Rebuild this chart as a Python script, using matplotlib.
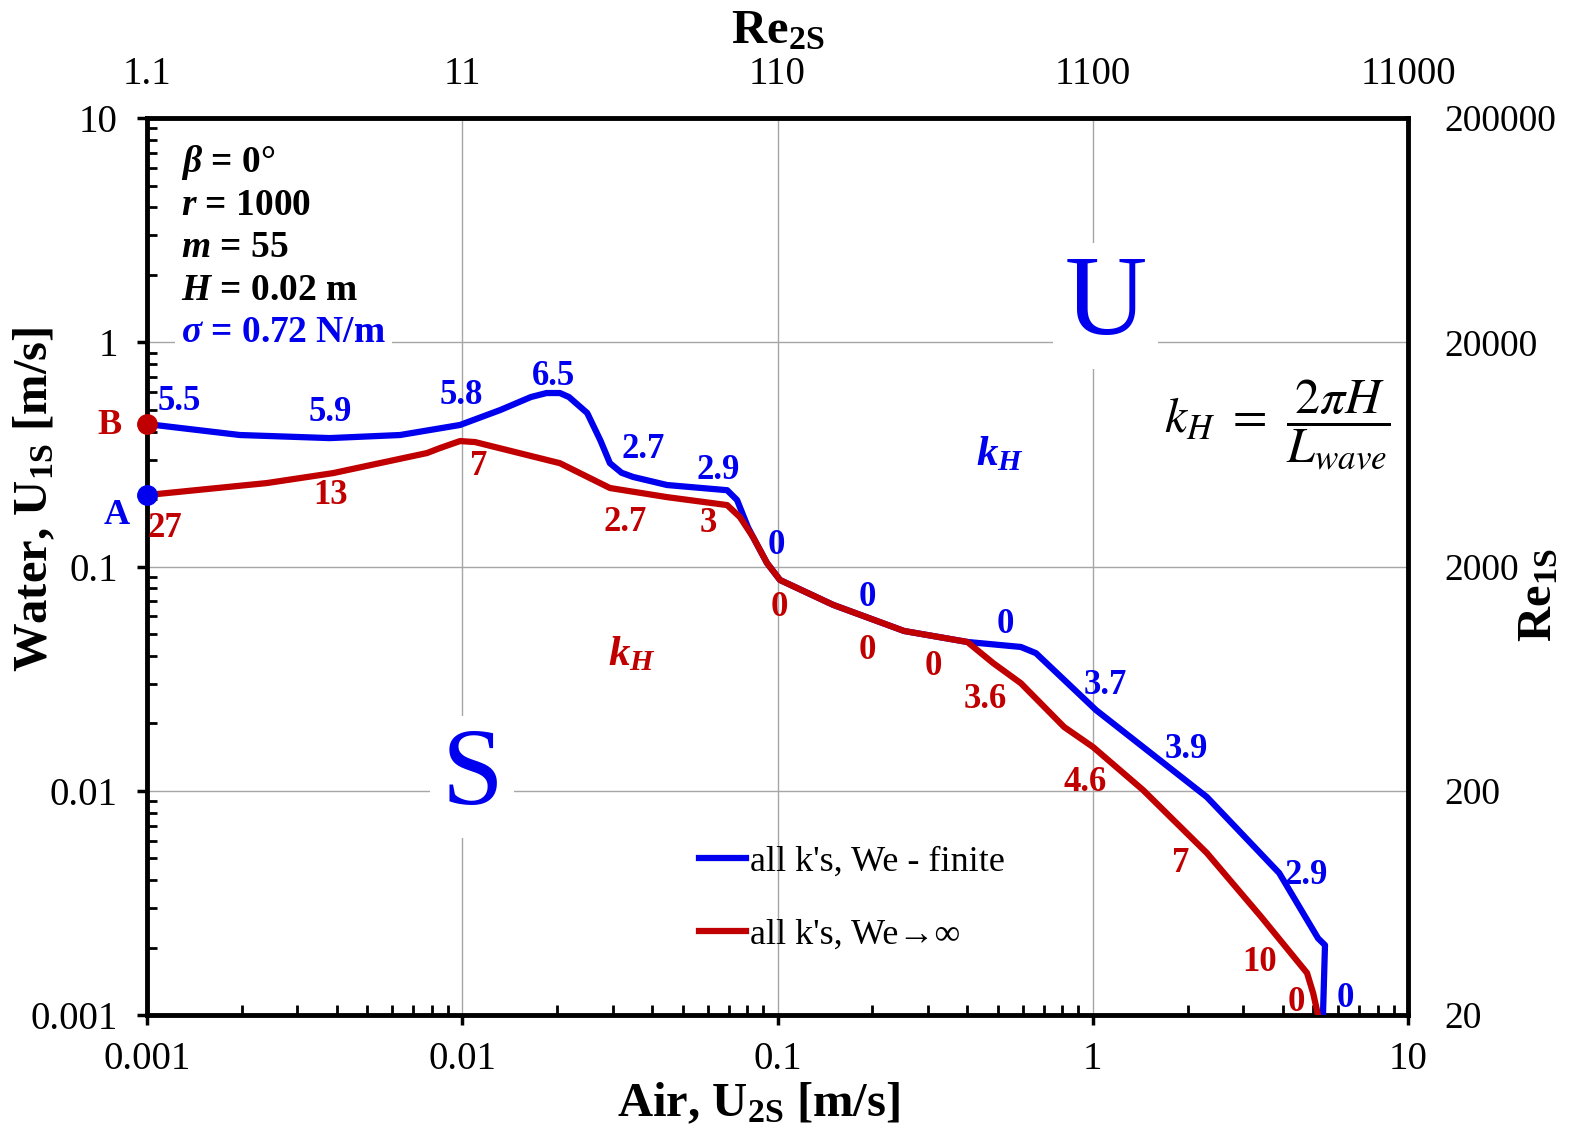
import matplotlib.pyplot as plt
from matplotlib.ticker import FixedLocator, NullLocator

plt.rcParams['font.family'] = ['Liberation Serif', 'DejaVu Serif']
plt.rcParams['mathtext.fontset'] = 'custom'
plt.rcParams['mathtext.rm'] = 'Liberation Serif:bold'
plt.rcParams['mathtext.it'] = 'Liberation Serif:italic:bold'
plt.rcParams['mathtext.bf'] = 'Liberation Serif:bold'

BLUE = '#0000ee'
RED = '#c00000'

# neutral stability curve, We finite (blue)
u2_fin = [0.001, 0.00197, 0.0038, 0.00635, 0.00984, 0.0132, 0.0165, 0.0185, 0.0204, 0.0218,
          0.0249, 0.0274, 0.0294, 0.0320, 0.0348, 0.0446, 0.0692, 0.0744, 0.0805, 0.0836,
          0.0926, 0.1018, 0.150, 0.252, 0.40, 0.591, 0.660, 1.024, 2.30, 3.90,
          5.18, 5.45, 5.37]
u1_fin = [0.432, 0.386, 0.374, 0.386, 0.428, 0.499, 0.570, 0.594, 0.594, 0.570,
          0.484, 0.366, 0.289, 0.262, 0.251, 0.231, 0.219, 0.198, 0.150, 0.1354,
          0.1036, 0.0871, 0.0675, 0.0516, 0.0461, 0.0438, 0.0411, 0.0229, 0.00938, 0.00430,
          0.00220, 0.00205, 0.001]

# neutral stability curve, We -> infinity (red)
u2_inf = [0.001, 0.0024, 0.00389, 0.00773, 0.0085, 0.00984, 0.01098, 0.0204, 0.0294,
          0.0446, 0.0692, 0.076, 0.0836, 0.0926, 0.1018, 0.150, 0.252, 0.40,
          0.483, 0.591, 0.811, 1.002, 1.443, 2.30, 3.42, 4.78, 5.0, 5.18]
u1_inf = [0.2084, 0.2357, 0.261, 0.3208, 0.3377, 0.3628, 0.359, 0.289, 0.224,
          0.204, 0.188, 0.166, 0.1354, 0.1036, 0.0871, 0.0675, 0.0516, 0.0461,
          0.0371, 0.0302, 0.01925, 0.01567, 0.01008, 0.00528, 0.00274, 0.00154, 0.00125, 0.001]

# k_H values written along the curves
kh_fin = ['5.5', '5.9', '5.8', '6.5', '2.7', '2.9', '0', '0', '0', '3.7', '3.9', '2.9', '0']
kh_fin_x = [0.00127, 0.00381, 0.00991, 0.0194, 0.0375, 0.0648, 0.0989, 0.1923, 0.527,
            1.094, 1.976, 4.75, 6.31]
kh_fin_y = [0.542, 0.484, 0.582, 0.707, 0.331, 0.269, 0.1247, 0.0731, 0.0554,
            0.0296, 0.01536, 0.00417, 0.00118]

kh_inf = ['27', '13', '7', '2.7', '3', '0', '0', '0', '3.6', '4.6', '7', '10', '0']
kh_inf_x = [0.00114, 0.00381, 0.0113, 0.0328, 0.0602, 0.1011, 0.1923, 0.311, 0.455,
            0.945, 1.905, 3.39, 4.41]
kh_inf_y = [0.1485, 0.2084, 0.278, 0.158, 0.1563, 0.066, 0.0424, 0.036, 0.02565,
            0.01094, 0.00476, 0.00172, 0.00114]

point_a = (0.001, 0.2084)
point_b = (0.001, 0.432)

u_ticks = [0.001, 0.01, 0.1, 1, 10]
u_labels = ['0.001', '0.01', '0.1', '1', '10']
re2_ticks = [1.1, 11, 110, 1100, 11000]
re1_ticks = [20, 200, 2000, 20000, 200000]

fig = plt.figure(figsize=(15.74, 11.33), dpi=100)
ax = fig.add_axes([0.0934, 0.1041, 0.8012, 0.7917])
ax.set_xscale('log')
ax.set_yscale('log')
ax.set_xlim(1e-3, 10)
ax.set_ylim(1e-3, 10)
ax.grid(which='major', color='#a6a6a6', lw=1.0)
ax.set_axisbelow(True)

ax.plot(u2_fin, u1_fin, color=BLUE, lw=4.5, label="all k's, We - finite", zorder=3,
        solid_joinstyle='round')
ax.plot(u2_inf, u1_inf, color=RED, lw=4.5, label="all k's, We\u2192\u221e", zorder=3,
        solid_joinstyle='round')
ax.plot(*point_a, 'o', color=BLUE, ms=14, clip_on=False, zorder=6)
ax.plot(*point_b, 'o', color=RED, ms=14, clip_on=False, zorder=6)
ax.text(0.000803, 0.1697, 'A', color=BLUE, fontsize=26, fontweight='bold', ha='center', va='center')
ax.text(0.000763, 0.4276, 'B', color=RED, fontsize=26, fontweight='bold', ha='center', va='center')

for s, x, y in zip(kh_fin, kh_fin_x, kh_fin_y):
    ax.text(x, y, s, color=BLUE, fontsize=25, fontweight='bold', ha='center', va='center', zorder=4)
for s, x, y in zip(kh_inf, kh_inf_x, kh_inf_y):
    ax.text(x, y, s, color=RED, fontsize=25, fontweight='bold', ha='center', va='center', zorder=4)

# region names
ax.text(1.1, 1.45, 'U', color=BLUE, fontsize=82, ha='center', va='center',
        bbox=dict(boxstyle='square,pad=0.1', fc='white', ec='none'))
ax.text(0.01074, 0.0115, 'S', color=BLUE, fontsize=80, ha='center', va='center',
        bbox=dict(boxstyle='square,pad=0.1', fc='white', ec='none'))
ax.text(0.508, 0.314, r'$k_H$', color=BLUE, fontsize=31, ha='center', va='center')
ax.text(0.0346, 0.0403, r'$k_H$', color=RED, fontsize=31, ha='center', va='center')
ax.text(0.896, 0.658, r'$k_H\ =\ \dfrac{2\pi H}{L_{wave}}$', transform=ax.transAxes,
        fontsize=36, math_fontfamily='stix', ha='center', va='center')

# parameters
params = [r'$\beta$ = 0°', r'$r$ = 1000', r'$m$ = 55', r'$H$ = 0.02 m']
for i, s in enumerate(params):
    ax.text(0.027, 0.950 - i * 0.0473, s, transform=ax.transAxes, fontsize=27,
            fontweight='bold', ha='left', va='center')
ax.text(0.027, 0.761, r'$\sigma$ = 0.72 N/m', transform=ax.transAxes, fontsize=27,
        fontweight='bold', color=BLUE, ha='left', va='center',
        bbox=dict(boxstyle='square,pad=0.15', fc='white', ec='none'))

ax.legend(loc='upper left', bbox_to_anchor=(0.412, 0.225), frameon=False, fontsize=26,
          handlelength=1.3, handletextpad=0.1, labelspacing=1.1)

# axes styling
for sp in ax.spines.values():
    sp.set_linewidth(3.5)
ax.xaxis.set_major_locator(FixedLocator(u_ticks))
ax.yaxis.set_major_locator(FixedLocator(u_ticks))
ax.set_xticklabels(u_labels)
ax.set_yticklabels(u_labels)
ax.tick_params(which='major', direction='out', length=7, width=2.5, labelsize=28,
               top=True, right=True)
ax.tick_params(axis='x', which='major', pad=12)
ax.tick_params(axis='y', which='major', pad=14)
ax.tick_params(which='minor', direction='in', length=7, width=2, top=True, right=True)

# Reynolds number scales
ax_top = ax.twiny()
ax_top.set_xscale('log')
ax_top.set_xlim(re2_ticks[0], re2_ticks[-1])
ax_top.xaxis.set_major_locator(FixedLocator(re2_ticks))
ax_top.xaxis.set_minor_locator(NullLocator())
ax_top.set_xticklabels([f'{v:g}' for v in re2_ticks])
ax_top.tick_params(length=0, pad=18, labelsize=28)

ax_r = ax.twinx()
ax_r.set_yscale('log')
ax_r.set_ylim(re1_ticks[0], re1_ticks[-1])
ax_r.yaxis.set_major_locator(FixedLocator(re1_ticks))
ax_r.yaxis.set_minor_locator(NullLocator())
ax_r.set_yticklabels([f'{v:g}' for v in re1_ticks])
ax_r.tick_params(length=0, pad=26, labelsize=27)
for a in (ax_top, ax_r):
    for sp in a.spines.values():
        sp.set_visible(False)

fig.text(0.482, 0.026, r'Air, U$_{\mathrm{2S}}$ [m/s]', ha='center', va='center',
         fontsize=35, fontweight='bold')
fig.text(0.022, 0.559, r'Water, U$_{\mathrm{1S}}$ [m/s]', ha='center', va='center',
         rotation=90, fontsize=35, fontweight='bold')
fig.text(0.978, 0.475, r'Re$_{\mathrm{1S}}$', ha='center', va='center',
         rotation=90, fontsize=35, fontweight='bold')
fig.text(0.494, 0.972, r'Re$_{\mathrm{2S}}$', ha='center', va='center',
         fontsize=35, fontweight='bold')

fig.savefig('out.png', dpi=100)
